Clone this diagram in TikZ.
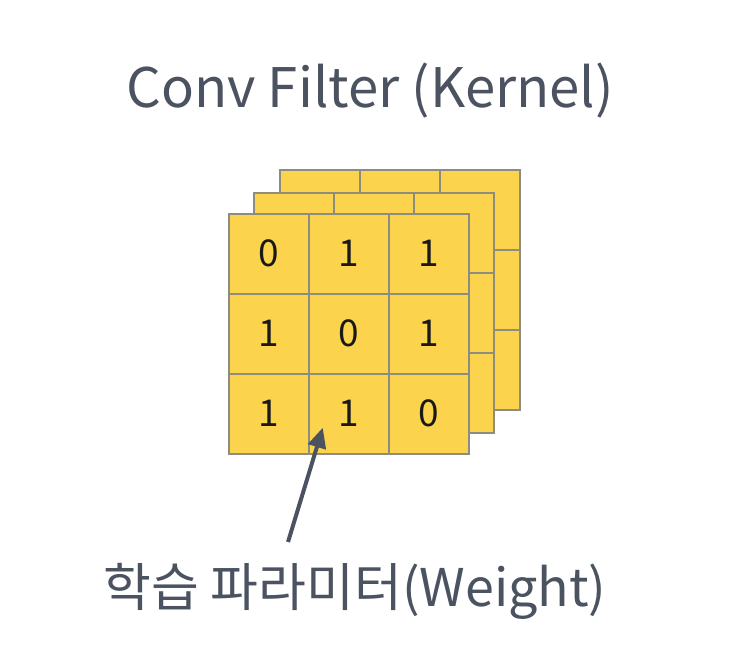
\documentclass[tikz,border=0pt]{standalone}
\usepackage{fontspec}
\setmainfont{Noto Sans CJK KR}
\usepackage{xcolor}
\usepackage{tikz}
\usetikzlibrary{arrows.meta,positioning,calc}

\definecolor{cellfill}{HTML}{FCD34D}
\definecolor{celledge}{HTML}{8E8B80}
\definecolor{slate}{HTML}{4B5260}

\begin{document}
\begin{tikzpicture}[x=1pt, y=-1pt,
  cell/.style={draw=celledge, fill=cellfill, line width=1.5pt, rectangle,
    minimum width=80pt, minimum height=80pt, inner sep=0pt, anchor=north west,
    font=\fontsize{37}{37}\selectfont, text=black!90},
  title/.style={text=slate, font=\fontsize{54.5}{54.5}\selectfont, anchor=base, inner sep=0pt},
  ptr/.style={-{Triangle[length=20pt,width=18pt]}, line width=4pt, draw=slate}
]
\useasboundingbox (0,0) rectangle (746,657);
\node[title] (head) at (370,107) {Conv Filter (Kernel)};
% two channels behind
\foreach \ox/\oy/\ch in {279/169/b, 253/192/m} {
  \foreach \r in {0,1,2} {
    \foreach \c in {0,1,2} {
      \node[cell] (\ch\r\c) at (\ox+80*\c, \oy+80*\r) {};
    }
  }
}
% front channel with weights
\foreach \v [count=\i from 0] in {0,1,1,1,0,1,1,1,0} {
  \pgfmathtruncatemacro{\r}{int(\i/3)}
  \pgfmathtruncatemacro{\c}{mod(\i,3)}
  \node[cell] (f\r\c) at (228+80*\c, 213+80*\r) {\v};
}
\node[title, font=\fontsize{52}{52}\selectfont] (weight) at (355,606) {학습 파라미터(Weight)};
\coordinate (tail) at (288,542);
\draw[ptr] (tail) -- ($(f21)+(-26,14)$);
\end{tikzpicture}
\end{document}
